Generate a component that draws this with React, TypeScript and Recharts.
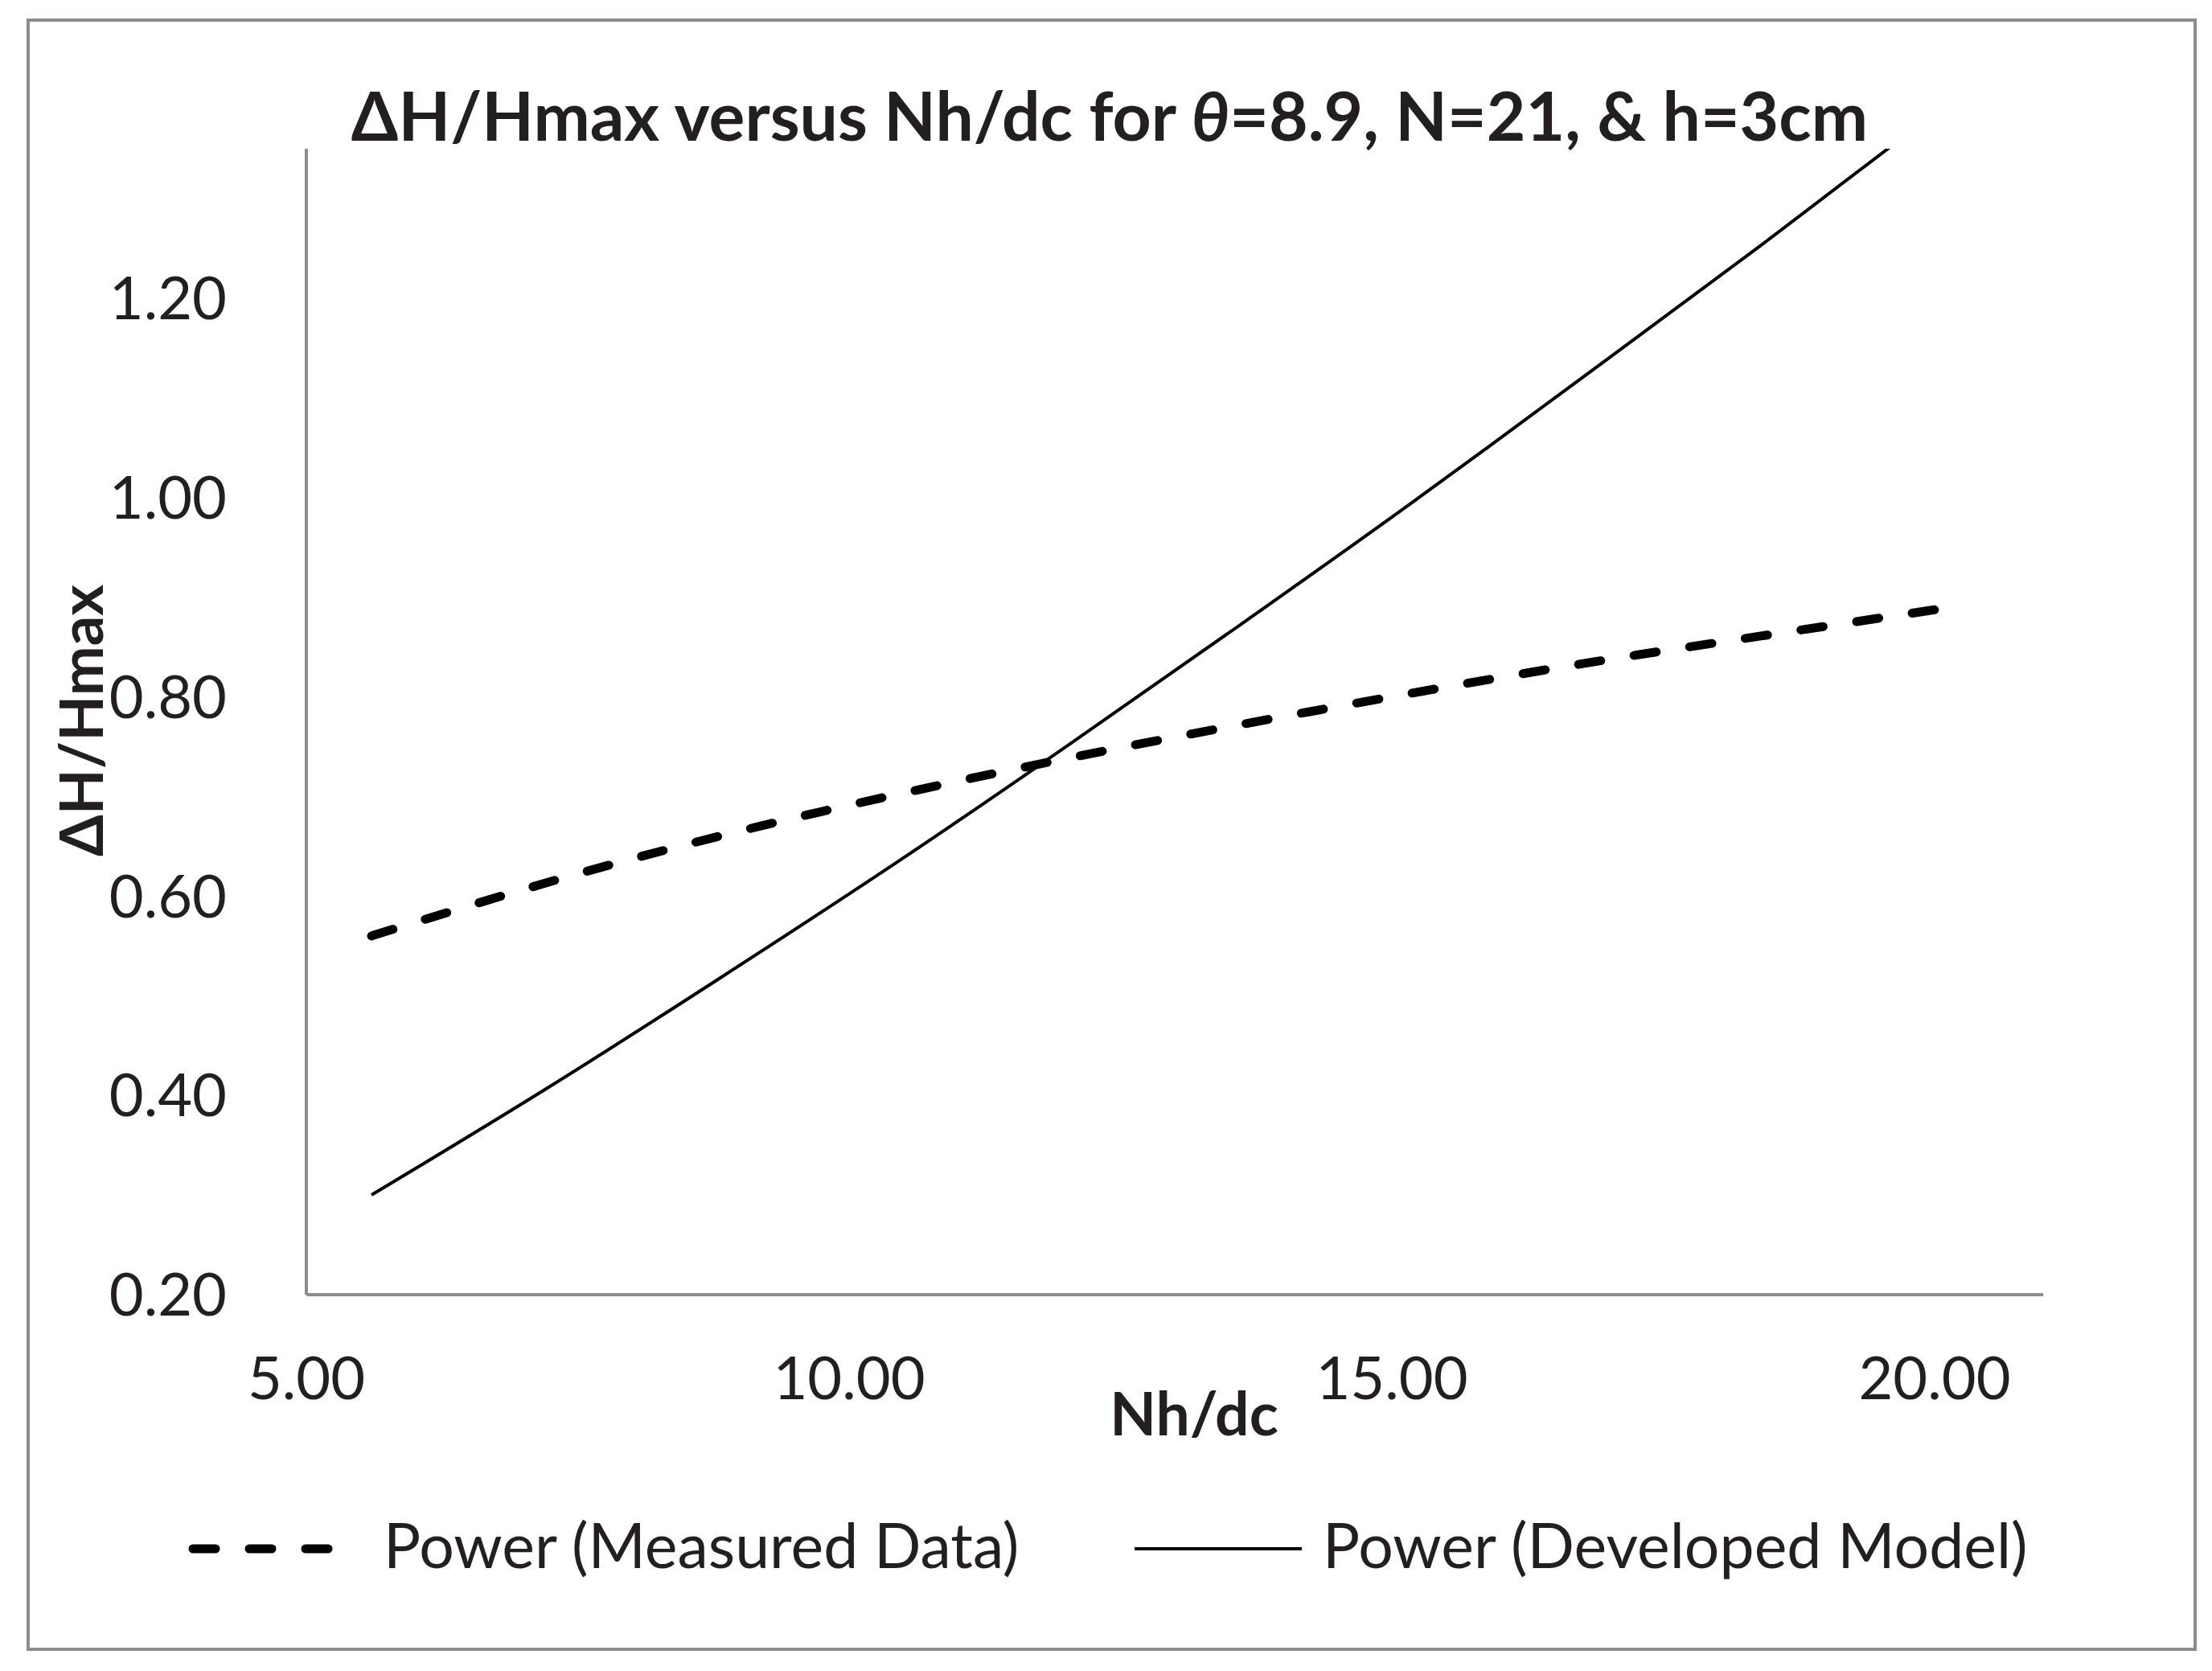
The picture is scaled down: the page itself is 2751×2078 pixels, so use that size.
import React from 'react';
import { LineChart, Line, XAxis, YAxis, Legend, Customized } from 'recharts';

const nhdc = [5.6, 7.2, 8.8, 10.4, 12.0, 13.6, 15.2, 16.8, 18.4, 20.1];
const measured = [0.56, 0.613, 0.66, 0.701, 0.738, 0.772, 0.804, 0.834, 0.861, 0.889];
const developed = [0.3, 0.406, 0.517, 0.631, 0.75, 0.872, 0.996, 1.124, 1.253, 1.394];
const xTicks = [5, 10, 15, 20];
const yTicks = [0.2, 0.4, 0.6, 0.8, 1.0, 1.2];
const seriesNames = ['Power (Measured Data)', 'Power (Developed Model)'];

const data = nhdc.map((x, i) => ({ x, measured: measured[i], developed: developed[i] }));

const FONT = "Lato, 'Noto Sans', 'DejaVu Sans', sans-serif";
const TEXT = '#231f20';
const GRAY = '#8c8c8c';

const Decorations = () => (
  <g>
    <rect x={35} y={25} width={2695} height={2026} fill="none" stroke={GRAY} strokeWidth={4} />
    <text x={1380} y={175} textAnchor="middle" fontFamily={FONT} fontWeight="bold" fontSize={84} fill={TEXT}>
      ΔH/Hmax versus Nh/dc for <tspan fontStyle="italic">θ</tspan>=8.9, N=21, &amp; h=3cm
    </text>
    <text x={1485} y={1785} textAnchor="middle" fontFamily={FONT} fontWeight="bold" fontSize={75} fill={TEXT}>
      Nh/dc
    </text>
    <text x={128} y={896} textAnchor="middle" transform="rotate(-90 128 896)" fontFamily={FONT} fontWeight="bold" fontSize={74} fill={TEXT}>
      ΔH/Hmax
    </text>
  </g>
);

const LegendContent = () => (
  <svg width={2751} height={140} style={{ display: 'block' }}>
    <line x1={240} y1={66} x2={422} y2={66} stroke="#000" strokeWidth={11} strokeDasharray="28 42" strokeLinecap="round" />
    <text x={477} y={90} fontFamily={FONT} fontSize={77} fill={TEXT}>{seriesNames[0]}</text>
    <line x1={1411} y1={66} x2={1619} y2={66} stroke="#000" strokeWidth={4} />
    <text x={1645} y={90} fontFamily={FONT} fontSize={77} fill={TEXT}>{seriesNames[1]}</text>
  </svg>
);

export default function App() {
  return (
    <div style={{ position: 'absolute', left: 0, top: 0, width: 2751, height: 2078, background: '#fff' }}>
      <LineChart width={2751} height={2078} data={data} margin={{ top: 185, right: 210, left: 0, bottom: 0 }}>
        <XAxis
          dataKey="x"
          type="number"
          domain={[5, 21]}
          ticks={xTicks}
          allowDataOverflow
          height={468}
          tickLine={false}
          tickSize={0}
          tickMargin={77}
          tickFormatter={(v: number) => v.toFixed(2)}
          axisLine={{ stroke: GRAY, strokeWidth: 4 }}
          tick={{ fill: TEXT, fontSize: 74, fontFamily: FONT }}
        />
        <YAxis
          type="number"
          domain={[0.2, 1.35]}
          ticks={yTicks}
          allowDataOverflow
          width={381}
          tickLine={false}
          tickSize={0}
          tickMargin={99}
          tickFormatter={(v: number) => v.toFixed(2)}
          axisLine={{ stroke: GRAY, strokeWidth: 4 }}
          tick={{ fill: TEXT, fontSize: 74, fontFamily: FONT }}
        />
        <Line
          type="natural"
          dataKey="measured"
          name={seriesNames[0]}
          stroke="#000"
          strokeWidth={11}
          strokeDasharray="28 42"
          strokeLinecap="round"
          dot={false}
          activeDot={false}
          isAnimationActive={false}
        />
        <Line
          type="natural"
          dataKey="developed"
          name={seriesNames[1]}
          stroke="#000"
          strokeWidth={4}
          dot={false}
          activeDot={false}
          isAnimationActive={false}
        />
        <Legend
          verticalAlign="middle"
          align="center"
          content={() => <LegendContent />}
          wrapperStyle={{ position: 'absolute', left: 0, top: 1860, width: 2751 }}
        />
        <Customized component={Decorations} />
      </LineChart>
    </div>
  );
}
